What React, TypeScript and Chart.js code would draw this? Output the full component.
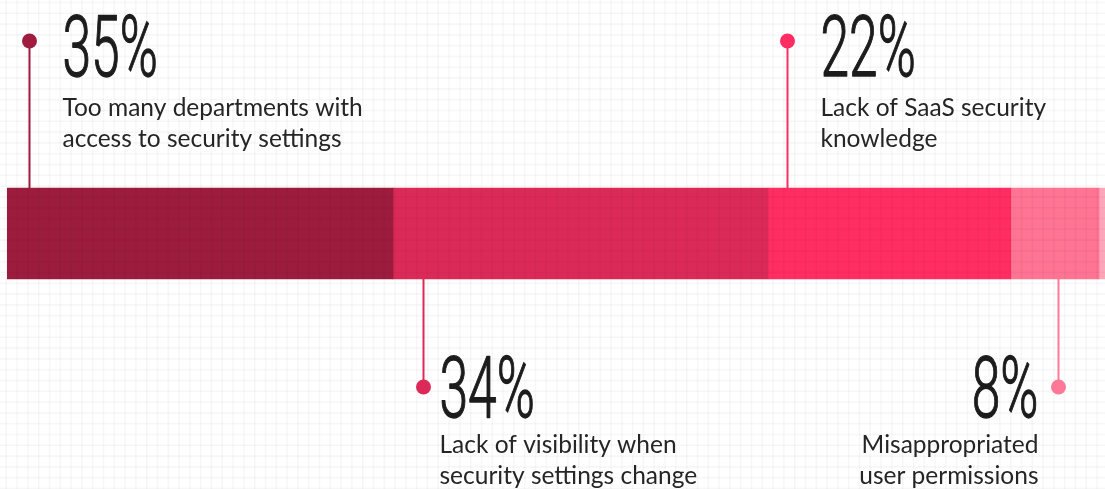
import React, { useEffect, useRef } from "react";
import { Chart, registerables } from "chart.js";

Chart.register(...registerables);

const categories = [
  "Too many departments with access to security settings",
  "Lack of visibility when security settings change",
  "Lack of SaaS security knowledge",
  "Misappropriated user permissions",
  "Other",
];
const values = [35, 34, 22, 8, 1];
const percentLabels = ["35%", "34%", "22%", "8%", ""];
const labelLines = [
  ["Too many departments with", "access to security settings"],
  ["Lack of visibility when", "security settings change"],
  ["Lack of SaaS security", "knowledge"],
  ["Misappropriated", "user permissions"],
  [],
];
const barColors = ["#9c1c3d", "#dc2a58", "#ff2d61", "#ff7393", "#ffa5ba"];
const dotColors = ["#a01b40", "#dc2a58", "#ff2d61", "#ff7896", "#ffa5ba"];

// annotation layout: offset (in value units) from segment start, side & text alignment
const annoLayout = [
  { seg: 0, offset: 2.0, side: "top", align: "left" },
  { seg: 1, offset: 2.7, side: "bottom", align: "left" },
  { seg: 2, offset: 1.75, side: "top", align: "left" },
  { seg: 3, offset: 4.3, side: "bottom", align: "right" },
];

const W = 1105;
const H = 489;

export default function App() {
  const ref = useRef<HTMLCanvasElement | null>(null);

  useEffect(() => {
    const canvas = ref.current;
    if (!canvas) return;

    const gridPlugin = {
      id: "bgGrid",
      beforeDraw(chart: any) {
        const ctx = chart.ctx;
        ctx.save();
        ctx.fillStyle = "#ffffff";
        ctx.fillRect(0, 0, chart.width, chart.height);
        ctx.restore();
      },
      afterDatasetsDraw(chart: any) {
        const ctx = chart.ctx;
        const step = 10.8;
        ctx.save();
        ctx.strokeStyle = "rgba(0,0,0,0.03)";
        ctx.lineWidth = 1.6;
        for (let x = 6.3; x < chart.width; x += step) {
          ctx.beginPath();
          ctx.moveTo(x, 0);
          ctx.lineTo(x, chart.height);
          ctx.stroke();
        }
        for (let y = 2.5; y < chart.height; y += step) {
          ctx.beginPath();
          ctx.moveTo(0, y);
          ctx.lineTo(chart.width, y);
          ctx.stroke();
        }
        ctx.restore();
      },
      afterDraw(chart: any) {
        const ctx = chart.ctx;
        const xs = chart.scales.x;
        const meta = chart.getDatasetMeta(0);
        const bar = meta.data[0];
        const props = bar.getProps(["y", "height"], true);
        const barTop = props.y - props.height / 2;
        const barBottom = props.y + props.height / 2;

        annoLayout.forEach((a) => {
          let start = 0;
          for (let i = 0; i < a.seg; i++) start += values[i];
          const px = Math.round(xs.getPixelForValue(start + a.offset)) + 0.5;
          const top = a.side === "top";
          const dotY = top ? 41 : 387;
          ctx.save();
          ctx.strokeStyle = dotColors[a.seg];
          ctx.lineWidth = 2;
          ctx.beginPath();
          ctx.moveTo(px, dotY);
          ctx.lineTo(px, top ? barTop : barBottom);
          ctx.stroke();
          ctx.fillStyle = dotColors[a.seg];
          ctx.beginPath();
          ctx.arc(px, dotY, 7.5, 0, Math.PI * 2);
          ctx.fill();

          const numBase = top ? 76 : 417;
          const l1 = top ? 116 : 453;
          const l2 = top ? 147 : 484;
          const rightAligned = a.align === "right";
          const textX = rightAligned ? px - 20 : px + (top ? 33 : 16);

          // big number, condensed
          ctx.fillStyle = "#1c1c1c";
          ctx.strokeStyle = "#1c1c1c";
          ctx.lineWidth = 1.3;
          ctx.lineJoin = "round";
          ctx.font = "300 86px Roboto";
          ctx.textBaseline = "alphabetic";
          const sx = 0.6;
          const txt = percentLabels[a.seg];
          const tw = ctx.measureText(txt).width * sx;
          ctx.save();
          const nx = rightAligned ? textX - tw : textX;
          ctx.translate(nx, numBase);
          ctx.scale(sx, 1);
          ctx.textAlign = "left";
          ctx.fillText(txt, 0, 0);
          ctx.strokeText(txt, 0, 0);
          ctx.restore();

          ctx.font = "400 24.5px Lato";
          ctx.fillStyle = "#252525";
          ctx.textAlign = rightAligned ? "right" : "left";
          const lines = labelLines[a.seg];
          if (lines[0]) ctx.fillText(lines[0], textX, l1);
          if (lines[1]) ctx.fillText(lines[1], textX, l2);
          ctx.restore();
        });
      },
    };

    const chart = new Chart(canvas, {
      type: "bar",
      data: {
        labels: ["Challenges"],
        datasets: values.map((v, i) => ({
          label: categories[i],
          data: [v],
          backgroundColor: barColors[i],
          borderWidth: 0,
          barThickness: 91,
        })),
      },
      options: {
        indexAxis: "y",
        responsive: false,
        animation: false,
        maintainAspectRatio: false,
        layout: { padding: { left: 7, right: 0, top: 0, bottom: 22 } },
        plugins: { legend: { display: false }, tooltip: { enabled: false } },
        scales: {
          x: { stacked: true, min: 0, max: 100, display: false },
          y: { stacked: true, display: false },
        },
      },
      plugins: [gridPlugin],
    } as any);

    return () => chart.destroy();
  }, []);

  return (
    <div
      style={{
        position: "fixed",
        left: 0,
        top: 0,
        width: W,
        height: H,
        overflow: "hidden",
        background: "#fff",
      }}
    >
      <canvas
        ref={ref}
        width={1110}
        height={H}
        style={{ display: "block", width: 1110, height: H }}
      />
    </div>
  );
}
